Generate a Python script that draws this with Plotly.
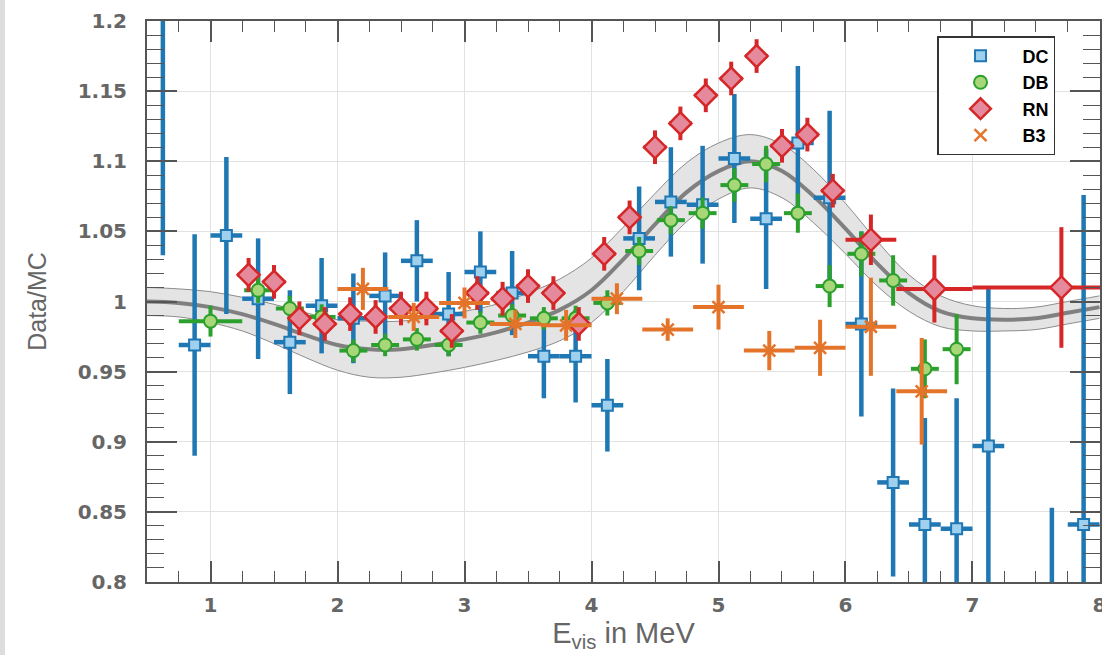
import plotly.graph_objects as go

# ---------------- data ----------------
# model band (grey): energy, central value, half width
band_x = [0.5, 0.75, 1.0, 1.25, 1.5, 1.75, 2.0, 2.25, 2.5, 2.75, 3.0, 3.25, 3.5, 3.75,
          4.0, 4.25, 4.5, 4.75, 5.0, 5.25, 5.5, 5.75, 6.0, 6.25, 6.5, 6.75, 7.0,
          7.25, 7.5, 7.75, 8.0]
band_center = [1.000, 0.999, 0.996, 0.991, 0.984, 0.976, 0.969, 0.966, 0.966, 0.969,
               0.973, 0.978, 0.985, 0.994, 1.008, 1.030, 1.055, 1.078, 1.093, 1.100,
               1.093, 1.075, 1.052, 1.027, 1.006, 0.993, 0.988, 0.987, 0.988, 0.992, 0.996]
band_half = [0.010, 0.010, 0.011, 0.012, 0.014, 0.016, 0.018, 0.020, 0.020, 0.020,
             0.020, 0.020, 0.021, 0.022, 0.023, 0.023, 0.022, 0.021, 0.020, 0.019,
             0.019, 0.019, 0.018, 0.016, 0.013, 0.011, 0.009, 0.008, 0.008, 0.008, 0.008]

# DC
dc_x = [0.625, 0.875, 1.125, 1.375, 1.625, 1.875, 2.125, 2.375, 2.625, 2.875, 3.125,
        3.375, 3.625, 3.875, 4.125, 4.375, 4.625, 4.875, 5.125, 5.375, 5.625, 5.875,
        6.125, 6.375, 6.625, 6.875, 7.125, 7.625, 7.875]
dc_y = [1.233, 0.969, 1.047, 1.002, 0.971, 0.997, 0.988, 1.004, 1.029, 0.991, 1.021,
        1.006, 0.961, 0.961, 0.926, 1.045, 1.071, 1.069, 1.102, 1.059, 1.113, 1.074,
        0.984, 0.871, 0.841, 0.838, 0.897, 0.660, 0.841]
dc_err = [0.200, 0.079, 0.056, 0.043, 0.037, 0.034, 0.032, 0.031, 0.029, 0.030, 0.029,
          0.030, 0.030, 0.033, 0.033, 0.037, 0.039, 0.042, 0.046, 0.050, 0.055, 0.062,
          0.066, 0.067, 0.076, 0.093, 0.112, 0.193, 0.235]
dc_xerr = [0.125] * len(dc_x)

# DB
db_x = [1.0, 1.375, 1.625, 1.875, 2.125, 2.375, 2.625, 2.875, 3.125, 3.375, 3.625,
        3.875, 4.125, 4.375, 4.625, 4.875, 5.125, 5.375, 5.625, 5.875, 6.125, 6.375,
        6.625, 6.875]
db_y = [0.986, 1.008, 0.995, 0.989, 0.965, 0.969, 0.973, 0.969, 0.985, 0.990, 0.988,
        0.988, 0.999, 1.036, 1.058, 1.063, 1.083, 1.098, 1.063, 1.011, 1.034, 1.015,
        0.952, 0.966]
db_err = [0.011, 0.009, 0.009, 0.009, 0.008, 0.008, 0.008, 0.008, 0.008, 0.008, 0.008,
          0.009, 0.009, 0.010, 0.010, 0.011, 0.012, 0.013, 0.014, 0.015, 0.016, 0.018,
          0.021, 0.025]
db_xerr = [0.25] + [0.11] * (len(db_x) - 1)

# RN
rn_x = [1.3, 1.5, 1.7, 1.9, 2.1, 2.3, 2.5, 2.7, 2.9, 3.1, 3.3, 3.5, 3.7, 3.9, 4.1,
        4.3, 4.5, 4.7, 4.9, 5.1, 5.3, 5.5, 5.7, 5.9, 6.2, 6.7, 7.7]
rn_y = [1.019, 1.014, 0.988, 0.984, 0.991, 0.989, 0.995, 0.995, 0.979, 1.006, 1.002,
        1.011, 1.006, 0.984, 1.034, 1.060, 1.110, 1.127, 1.147, 1.159, 1.175, 1.111,
        1.119, 1.079, 1.044, 1.009, 1.010]
rn_err = [0.012] * 24 + [0.018, 0.024, 0.043]
rn_xerr = [0.09] * 24 + [0.2, 0.3, 0.7]

# B3
b3_x = [2.2, 2.6, 3.0, 3.4, 3.8, 4.2, 4.6, 5.0, 5.4, 5.8, 6.2, 6.6]
b3_y = [1.009, 0.989, 0.999, 0.984, 0.983, 1.002, 0.980, 0.996, 0.965, 0.967, 0.982, 0.936]
b3_err = [0.015, 0.010, 0.011, 0.010, 0.011, 0.011, 0.008, 0.016, 0.014, 0.020, 0.035, 0.038]
b3_xerr = [0.2] * len(b3_x)

x_ticks = [1, 2, 3, 4, 5, 6, 7, 8]
x_tick_text = ["1", "2", "3", "4", "5", "6", "7", "8"]
y_ticks = [0.8, 0.85, 0.9, 0.95, 1.0, 1.05, 1.1, 1.15, 1.2]
y_tick_text = ["0.8", "0.85", "0.9", "0.95", "1", "1.05", "1.1", "1.15", "1.2"]

# ---------------- figure ----------------
BLUE, GREEN, RED, ORANGE = "#1f77b4", "#2ca02c", "#d62728", "#e3742a"
band_lo = [c - h for c, h in zip(band_center, band_half)]
band_hi = [c + h for c, h in zip(band_center, band_half)]

fig = go.Figure()
fig.add_trace(go.Scatter(x=band_x, y=band_lo, mode="lines", line=dict(color="#8c8c8c", width=1, shape="spline"),
                         showlegend=False, hoverinfo="skip"))
fig.add_trace(go.Scatter(x=band_x, y=band_hi, mode="lines", line=dict(color="#8c8c8c", width=1, shape="spline"),
                         fill="tonexty", fillcolor="#e4e4e4", showlegend=False, hoverinfo="skip"))
fig.add_trace(go.Scatter(x=band_x, y=band_center, mode="lines", line=dict(color="#808080", width=4, shape="spline"),
                         showlegend=False, hoverinfo="skip"))


def series(name, x, y, ey, ex, color, symbol, size, fill, lw, thick):
    return go.Scatter(
        x=x, y=y, name=name, mode="markers",
        marker=dict(symbol=symbol, size=size, color=fill, line=dict(color=color, width=lw)),
        error_y=dict(type="data", array=ey, visible=True, color=color, thickness=thick, width=0),
        error_x=dict(type="data", array=ex, visible=True, color=color, thickness=thick, width=0),
        cliponaxis=True,
    )


fig.add_trace(series("DC", dc_x, dc_y, dc_err, dc_xerr, BLUE, "square", 11, "#9fd0ee", 2, 4.5))
fig.add_trace(series("DB", db_x, db_y, db_err, db_xerr, GREEN, "circle", 13, "#a8d77a", 2, 4))
fig.add_trace(series("RN", rn_x, rn_y, rn_err, rn_xerr, RED, "diamond", 17, "#e48a9c", 2.5, 4))
fig.add_trace(series("B3", b3_x, b3_y, b3_err, b3_xerr, ORANGE, "x-thin-open", 12, ORANGE, 2.5, 4))

axis_col = "#555555"
tick_font = dict(family="DejaVu Sans", size=20, color="#666666", weight="bold")

fig.update_xaxes(
    range=[0.5, 8.004], tickmode="array", tickvals=x_ticks, ticktext=x_tick_text,
    ticks="inside", ticklen=21, tickwidth=1.5, tickcolor=axis_col,
    showline=True, linecolor=axis_col, linewidth=2, mirror="allticks",
    showgrid=True, gridcolor="#e2e2e2", gridwidth=1, zeroline=False,
    minor=dict(tickmode="linear", tick0=0.5, dtick=0.25, ticks="inside", ticklen=11,
               tickwidth=1.2, tickcolor=axis_col, showgrid=False),
    tickfont=tick_font, ticklabelstandoff=4, ticklabeloverflow="allow", automargin=False,
    title=dict(text="E<sub>vis</sub> in MeV", font=dict(family="Liberation Sans", size=29, color="#666666"),
               standoff=5),
)
fig.update_yaxes(
    range=[0.8, 1.2], tickmode="array", tickvals=y_ticks, ticktext=y_tick_text,
    ticks="inside", ticklen=30, tickwidth=1.5, tickcolor=axis_col,
    showline=True, linecolor=axis_col, linewidth=2, mirror="allticks",
    showgrid=True, gridcolor="#e2e2e2", gridwidth=1, zeroline=False,
    minor=dict(tickmode="linear", tick0=0.8, dtick=0.01, ticks="inside", ticklen=17,
               tickwidth=1.2, tickcolor=axis_col, showgrid=False),
    tickfont=tick_font, ticklabelstandoff=14, ticklabeloverflow="allow", automargin=False,
    title=dict(text="Data/MC", font=dict(family="Liberation Sans", size=25, color="#666666"),
               standoff=24),
)

fig.update_layout(
    width=1102, height=655,
    margin=dict(l=147, r=2, t=21, b=73),
    paper_bgcolor="white", plot_bgcolor="white",
    showlegend=True,
    legend=dict(x=0.829, y=0.973, xanchor="left", yanchor="top", traceorder="normal",
                bgcolor="white", bordercolor="#333333", borderwidth=1.5,
                font=dict(family="Liberation Sans", size=18, color="black", weight="bold"),
                itemwidth=74, tracegroupgap=0),
    shapes=[dict(type="rect", xref="paper", yref="paper",
                 x0=-147 / 953, x1=-142 / 953, y0=-73 / 561, y1=1 + 21 / 561,
                 fillcolor="#dddddd", line=dict(width=0), layer="below")],
)

fig.write_html("out.html")
